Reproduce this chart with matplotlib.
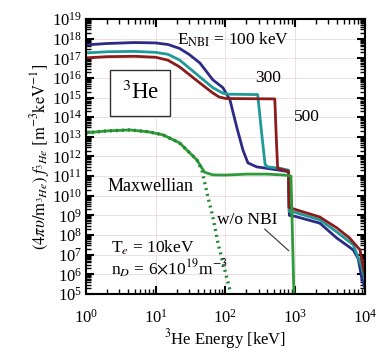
import numpy as np
import matplotlib
matplotlib.use('Agg')
from matplotlib import pyplot as plt
from matplotlib.ticker import LogLocator, NullFormatter

plt.rcParams['font.family'] = ['Liberation Serif', 'DejaVu Serif']
plt.rcParams['mathtext.fontset'] = 'stix'

# energies [keV] and log10 of the distribution
e_100 = [1, 2, 5, 10, 15, 22, 30, 43, 66, 92, 116, 145, 178, 210, 280, 600, 800, 825,
         1000, 2264, 3930, 6800, 8000, 8960, 10000]
f_100 = [17.68, 17.75, 17.8, 17.78, 17.7, 17.5, 17.2, 16.76, 15.9, 15.5, 14.88, 13.5, 12.33,
         11.67, 11.47, 11.3, 11.22, 9.0, 8.95, 8.6, 7.85, 7.24, 6.8, 5.87, 5.3]

e_300 = [1, 2, 5, 10, 15, 22, 43, 66, 92, 110, 290, 330, 370, 400, 600, 800, 820,
         1000, 2264, 3930, 6800, 8960, 10000]
f_300 = [17.27, 17.33, 17.35, 17.3, 17.2, 16.91, 16.05, 15.5, 15.22, 15.17, 15.15, 13.2, 11.6,
         11.47, 11.4, 11.3, 9.2, 9.15, 8.77, 8.16, 7.5, 6.4, 5.7]

e_500 = [1, 2, 5, 10, 15, 22, 43, 66, 81, 100, 510, 535, 560, 700, 800, 815,
         1290, 2240, 3960, 6000, 8500, 9400, 10000]
f_500 = [17.02, 17.08, 17.1, 17.05, 16.9, 16.56, 15.74, 15.23, 15.03, 14.95, 14.93, 13.0, 11.4,
         11.3, 11.25, 9.4, 9.18, 8.92, 8.36, 7.85, 7.24, 6.4, 6.0]

e_nonbi = [1, 2, 4.3, 8, 12.7, 22, 39, 50, 66, 100, 200, 400, 700, 870, 990]
f_nonbi = [13.2, 13.3, 13.35, 13.25, 13.1, 12.69, 11.82, 11.2, 11.06, 11.05, 11.1, 11.1,
           11.05, 11.0, 3.0]

e_maxw = [1, 2, 4.3, 8, 12.7, 22, 39, 46, 56, 66, 78, 92, 116, 130]
f_maxw = [13.2, 13.3, 13.35, 13.25, 13.1, 12.69, 11.82, 11.3, 9.94, 8.92, 7.6, 6.58, 5.2, 4.6]

fig = plt.figure(figsize=(3.77, 3.58), dpi=100)
ax = fig.add_axes([0.228, 0.179, 0.740, 0.768])

ax.plot(e_100, 10.0 ** np.array(f_100), color='#2b2b85', lw=2.0)
ax.plot(e_300, 10.0 ** np.array(f_300), color='#1f9a9a', lw=2.0)
ax.plot(e_500, 10.0 ** np.array(f_500), color='#8a1c1c', lw=2.0)
ax.plot(e_nonbi, 10.0 ** np.array(f_nonbi), color='#2e9a3a', lw=2.0)
ax.plot(e_maxw, 10.0 ** np.array(f_maxw), color='#1f8a2e', lw=2.4, ls=(0, (0.6, 1.2)))

ax.set_xscale('log')
ax.set_yscale('log')
ax.set_xlim(1, 1e4)
ax.set_ylim(1e5, 1e19)

ax.yaxis.set_major_locator(LogLocator(base=10, numticks=20))
ax.yaxis.set_minor_locator(LogLocator(base=10, subs=np.arange(2, 10), numticks=200))
ax.yaxis.set_minor_formatter(NullFormatter())
ax.xaxis.set_major_locator(LogLocator(base=10, numticks=10))
ax.xaxis.set_minor_locator(LogLocator(base=10, subs=np.arange(2, 10), numticks=100))

ax.tick_params(which='both', direction='in', top=True, right=True, labelsize=12)
ax.tick_params(which='major', length=6, width=1.5)
ax.tick_params(which='minor', length=3.5, width=1.0)
ax.tick_params(axis='y', pad=3)
ax.tick_params(axis='x', pad=11)
for s in ax.spines.values():
    s.set_linewidth(1.5)

ax.grid(True, which='major', color='#ecd9de', lw=0.6)
ax.set_axisbelow(True)

ax.set_xlabel(r'$^{3}$He Energy [keV]', fontsize=12, labelpad=0)
ax.set_ylabel(r'$(4\pi\upsilon/\mathrm{m}_{^{3}He})\ f_{^{3}He}\ [\mathrm{m}^{-3}\mathrm{keV}^{-1}]$',
              fontsize=12, labelpad=0)

ax.text(20, 10 ** 17.95, r'E$_{\mathrm{NBI}}$ = 100 keV', fontsize=12.5, va='center')
ax.text(406, 10 ** 16.0, '300', fontsize=12.5, ha='center', va='center')
ax.text(1475, 10 ** 14.0, '500', fontsize=12.5, ha='center', va='center')
ax.text(6.0, 10 ** 15.25, r'$^{3}$He', fontsize=16.5, ha='center', va='center',
        bbox=dict(boxstyle='square,pad=0.5', fc='white', ec='#333333', lw=1.0))
ax.text(8.5, 10 ** 10.45, 'Maxwellian', fontsize=13, ha='center', va='center')
ax.text(203, 10 ** 8.75, 'w/o NBI', fontsize=12.5, ha='center', va='center')
ax.annotate('', xy=(869, 10 ** 7.1), xytext=(340, 10 ** 8.4),
            arrowprops=dict(arrowstyle='-', color='#333333', lw=0.8))
ax.text(2.3, 10 ** 7.35, r'T$_{e}$ = 10keV', fontsize=12.5, va='center')
ax.text(2.3, 10 ** 6.3, r'n$_{D}$ = 6$\times$10$^{19}$m$^{-3}$', fontsize=12.5, va='center')

fig.savefig('out.png', dpi=100)
